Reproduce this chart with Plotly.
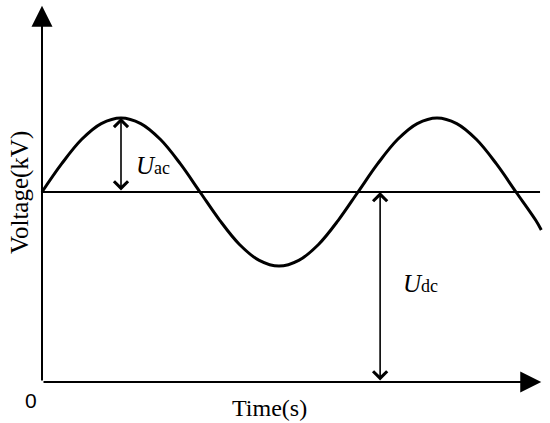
import plotly.graph_objects as go

# ---- data (period = 1 time unit, Udc = 1 voltage unit) ----
time_pts = [0, 0.0625, 0.125, 0.1875, 0.25, 0.3125, 0.375, 0.4375, 0.5,
            0.5625, 0.625, 0.6875, 0.75, 0.8125, 0.875, 0.9375, 1.0,
            1.0625, 1.125, 1.1875, 1.25, 1.3125, 1.375, 1.4375, 1.5, 1.5625, 1.58]
volt_pts = [1.0, 1.149, 1.276, 1.360, 1.39, 1.360, 1.276, 1.149, 1.0,
            0.851, 0.724, 0.640, 0.61, 0.640, 0.724, 0.851, 1.0,
            1.149, 1.276, 1.360, 1.39, 1.360, 1.276, 1.149, 1.0, 0.851, 0.80]
U_DC = 1.0
U_AC_PEAK = 1.39
T_PEAK = 0.25
T_DC_ARROW = 1.07
T_AXIS_END = 1.58
V_AXIS_END = 1.98
T_DC_END = 1.576

SERIF = "Liberation Serif, Times New Roman, serif"
SANS = "Liberation Sans, Arial, sans-serif"

fig = go.Figure()

# DC level line
fig.add_trace(go.Scatter(x=[0, T_DC_END], y=[U_DC, U_DC], mode="lines",
                         line=dict(color="black", width=2), hoverinfo="skip"))
# AC + DC wave
fig.add_trace(go.Scatter(x=time_pts, y=volt_pts, mode="lines",
                         line=dict(color="black", width=3, shape="spline", smoothing=1.0),
                         hoverinfo="skip"))

ann = []
# axes with filled arrowheads
ann.append(dict(x=0, y=V_AXIS_END, ax=0, ay=0, axref="x", ayref="y", xref="x", yref="y",
                text="", showarrow=True, arrowhead=2, arrowsize=2.1, arrowwidth=2, arrowcolor="black"))
ann.append(dict(x=T_AXIS_END, y=0, ax=0, ay=0, axref="x", ayref="y", xref="x", yref="y",
                text="", showarrow=True, arrowhead=2, arrowsize=2.1, arrowwidth=2, arrowcolor="black"))
# Uac double arrow
ann.append(dict(x=T_PEAK, y=U_AC_PEAK, ax=T_PEAK, ay=U_DC, axref="x", ayref="y", xref="x", yref="y",
                text="", showarrow=True, arrowhead=4, startarrowhead=4, arrowside="end+start",
                arrowsize=1.7, startarrowsize=1.7, arrowwidth=1.6, arrowcolor="black"))
# Udc double arrow
ann.append(dict(x=T_DC_ARROW, y=U_DC, ax=T_DC_ARROW, ay=0, axref="x", ayref="y", xref="x", yref="y",
                text="", showarrow=True, arrowhead=4, startarrowhead=4, arrowside="end+start",
                arrowsize=1.7, startarrowsize=1.7, arrowwidth=1.6, arrowcolor="black"))
# labels
ann.append(dict(x=0.291, y=1.137, xref="x", yref="y", xanchor="left", yanchor="middle", showarrow=False,
                text="<i>U</i><span style='font-size:18px'>ac</span>",
                font=dict(family=SERIF, size=25, color="black")))
ann.append(dict(x=1.136, y=0.516, xref="x", yref="y", xanchor="left", yanchor="middle", showarrow=False,
                text="<i>U</i><span style='font-size:18px'>dc</span>",
                font=dict(family=SERIF, size=25, color="black")))
ann.append(dict(x=-0.035, y=-0.095, xref="x", yref="y", xanchor="center", yanchor="middle", showarrow=False,
                text="0", font=dict(family=SANS, size=21, color="black")))
ann.append(dict(x=0.72, y=-0.137, xref="x", yref="y", xanchor="center", yanchor="middle", showarrow=False,
                text="Time(s)", font=dict(family=SERIF, size=24, color="black")))
ann.append(dict(x=-0.07, y=1.0, xref="x", yref="y", xanchor="center", yanchor="middle", showarrow=False,
                text="Voltage(kV)", textangle=-90, font=dict(family=SERIF, size=25, color="black")))

fig.update_layout(
    width=550, height=423,
    margin=dict(l=0, r=0, t=0, b=0),
    paper_bgcolor="white", plot_bgcolor="white",
    showlegend=False,
    xaxis=dict(range=[-42 / 316, 508 / 316], visible=False, fixedrange=True),
    yaxis=dict(range=[-41 / 190, 382 / 190], visible=False, fixedrange=True),
    annotations=ann,
)

fig.write_html("out.html", config={"staticPlot": True},
               post_script="document.body.style.margin='0';document.body.style.overflow='hidden';")
